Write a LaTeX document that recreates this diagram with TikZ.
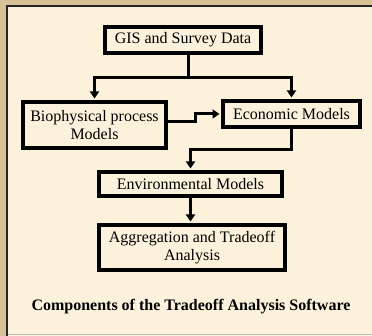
\documentclass[tikz,border=0pt]{standalone}
\usepackage{fontspec}
\setmainfont{Liberation Serif}
\usetikzlibrary{arrows.meta}
\definecolor{parch}{HTML}{D8C197}
\definecolor{cream}{HTML}{FCF1DA}
\tikzset{
  blk/.style={draw=black, line width=4pt, fill=cream, inner sep=0pt, align=center, font=\fontsize{16}{18.5}\selectfont},
  conn/.style={draw=black, line width=3pt},
  arr/.style={conn, -{Triangle[width=9pt,length=7pt]}, shorten >=1.5pt}
}
\begin{document}
\begin{tikzpicture}[x=1pt,y=-1pt]
\useasboundingbox (0,0) rectangle (372,336);
\fill[parch] (0,0) rectangle (372,336);
\fill[cream] (7,6) rectangle (372,336);
\draw[line width=2pt, black!85] (7,336) -- (7,6) -- (372,6);
\draw[line width=0.8pt, black!25] (8,334) -- (372,334);

\node[blk, minimum width=156pt, minimum height=26pt] (gis) at (183,40) {GIS and Survey Data};
\node[blk, minimum width=143pt, minimum height=46pt] (bio) at (94.5,125) {Biophysical process\\Models};
\node[blk, minimum width=137pt, minimum height=26pt] (eco) at (291.5,114) {Economic Models};
\node[blk, minimum width=183pt, minimum height=24pt] (env) at (190.5,184) {Environmental Models};
\node[blk, minimum width=186pt, minimum height=45pt] (agg) at (192,247.5) {Aggregation and Tradeoff\\Analysis};
\node[font=\fontsize{16}{18}\selectfont\bfseries] (cap) at (191,307) {Components of the Tradeoff Analysis Software};

\coordinate (j1) at (188,78);
\draw[conn] (gis.south -| j1) -- (j1);
\draw[arr] (j1) -| (bio.north);
\draw[arr] (j1) -| (eco.north);
\draw[arr] ([yshift=3pt]bio.east) -- ++(27,0) |- (eco.west);
\draw[arr] (eco.south) -- ++(0,21) -| (env.north);
\draw[arr] (env.south) -- (env.south |- agg.north);
\end{tikzpicture}
\end{document}
